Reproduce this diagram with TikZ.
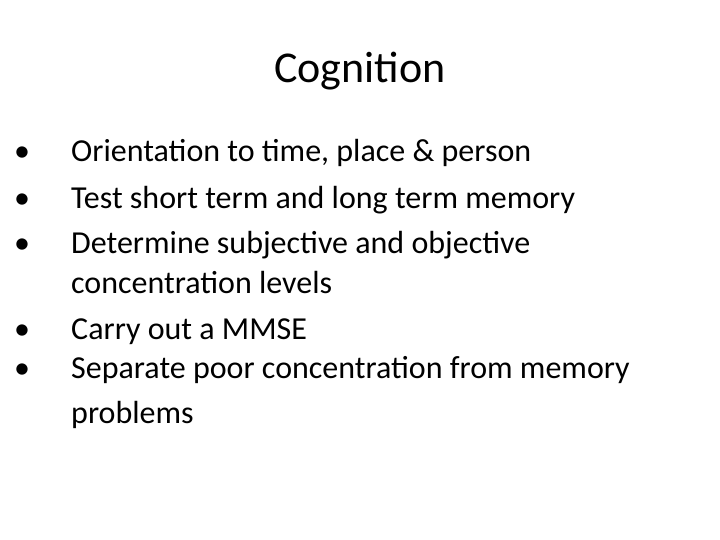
\documentclass[tikz,border=0pt]{standalone}
\usepackage{fontspec}
\setmainfont{Carlito}
\begin{document}
\begin{tikzpicture}[x=1pt,y=-1pt,
  body/.style={anchor=base west,inner sep=0pt,font=\fontsize{32}{38}\selectfont},
  bul/.style={anchor=base west,inner sep=0pt,font=\fontsize{32}{38}\selectfont}]
\useasboundingbox[fill=white] (0,0) rectangle (720,540);
\node[anchor=base,inner sep=0pt,font=\fontsize{44}{52}\selectfont] (title) at (360,83) {Cognition};
\foreach \y/\t/\n in {162/Orientation to time{,} place \& person/a,
                     208/Test short term and long term memory/b,
                     254/Determine subjective and objective/c,
                     339/Carry out a MMSE/e,
                     378/Separate poor concentration from memory/f}{
  \node[bul] (bul\n) at (14,\y) {•};
  \node[body] (t\n) at (71,\y) {\t};
}
\node[body] (td) at (71,293) {concentration levels};
\node[body] (tg) at (71,423) {problems};
\end{tikzpicture}
\end{document}
